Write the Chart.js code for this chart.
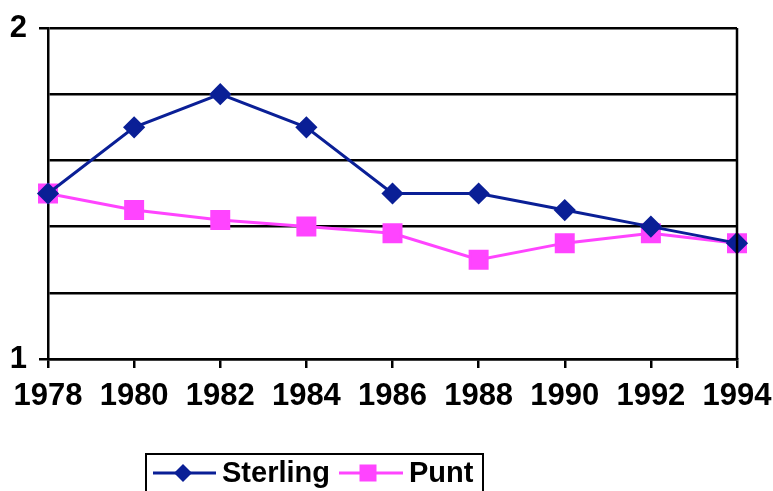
<!DOCTYPE html>
<html>
<head>
<meta charset="utf-8">
<script src="https://cdn.jsdelivr.net/npm/chart.js@4"></script>
<style>
  html,body{margin:0;padding:0;background:#fff;}
  #wrap{width:773px;height:491px;position:relative;}
</style>
</head>
<body>
<div id="wrap"><canvas id="c" width="773" height="491"></canvas></div>
<script>
// ── DATA ─────────────────────────────────────
const years    = ['1978','1980','1982','1984','1986','1988','1990','1992','1994'];
const sterling = [1.50, 1.70, 1.80, 1.70, 1.50, 1.50, 1.45, 1.40, 1.35];
const punt     = [1.50, 1.45, 1.42, 1.40, 1.38, 1.30, 1.35, 1.38, 1.35];
const yTicksShown = [1, 2];

const NAVY = '#0a1f96', PINK = '#ff44ff';
const FONT = "'Liberation Sans', Arial, sans-serif";
const shown = v => yTicksShown.includes(Math.round(v*100)/100);

// ── LEGEND BOX + RIGHT BORDER ─────────────────
const extras = {
  id:'extras',
  afterDraw(chart){
    const {ctx, chartArea:a} = chart;
    ctx.save();
    // right border of plot
    ctx.strokeStyle='#000'; ctx.lineWidth=2.5;
    ctx.beginPath(); ctx.moveTo(a.right, a.top); ctx.lineTo(a.right, a.bottom); ctx.stroke();

    // legend
    ctx.lineWidth=2;
    ctx.strokeRect(146, 454, 337, 50);
    const y=473;
    ctx.lineWidth=3;
    ctx.strokeStyle=NAVY;
    ctx.beginPath(); ctx.moveTo(153,y); ctx.lineTo(216,y); ctx.stroke();
    ctx.fillStyle=NAVY;
    ctx.beginPath(); ctx.moveTo(183,y-9); ctx.lineTo(192,y); ctx.lineTo(183,y+9); ctx.lineTo(174,y); ctx.closePath(); ctx.fill();
    ctx.strokeStyle=PINK;
    ctx.beginPath(); ctx.moveTo(339,y); ctx.lineTo(403,y); ctx.stroke();
    ctx.fillStyle=PINK;
    ctx.fillRect(368-8.5, y-8.5, 17, 17);

    ctx.fillStyle='#000';
    ctx.font='bold 29px '+FONT;
    ctx.textBaseline='middle';
    ctx.fillText('Sterling', 222, y+1);
    ctx.fillText('Punt', 409, y+1);
    ctx.restore();
  }
};

new Chart(document.getElementById('c'), {
  type:'line',
  data:{
    labels:years,
    datasets:[
      {label:'Sterling', data:sterling, borderColor:NAVY, backgroundColor:NAVY,
       borderWidth:3, pointStyle:'rectRot', pointRadius:9, pointHoverRadius:9, tension:0},
      {label:'Punt', data:punt, borderColor:PINK, backgroundColor:PINK,
       borderWidth:3, pointStyle:'rect', pointRadius:12, pointHoverRadius:12, tension:0},
    ]
  },
  plugins:[extras],
  options:{
    responsive:false, animation:false,
    layout:{padding:{top:28, right:36, bottom:72, left:0}},
    plugins:{legend:{display:false}, tooltip:{enabled:false}},
    scales:{
      x:{
        offset:false,
        afterFit: s => { s.height = 60; s.paddingLeft = 0; s.paddingRight = 0; },
        grid:{drawOnChartArea:false, drawTicks:true, tickLength:9, color:'#000', lineWidth:2.5},
        border:{color:'#000', width:2.5},
        ticks:{color:'#000', font:{family:FONT, size:31, weight:'bold'}, padding:10, maxRotation:0, autoSkip:false},
      },
      y:{
        min:1, max:2,
        afterFit: s => { s.width = 48; s.paddingTop = 0; s.paddingBottom = 0; },
        grid:{color:'#000', lineWidth:2.5, tickLength:9,
              tickColor: c => shown(c.tick.value) ? '#000' : 'rgba(0,0,0,0)'},
        border:{color:'#000', width:2.5},
        ticks:{stepSize:0.2, color:'#000', padding:12,
               font:{family:FONT, size:31, weight:'bold'},
               callback: v => shown(v) ? String(Math.round(v)) : ''},
      }
    }
  }
});
</script>
</body>
</html>
